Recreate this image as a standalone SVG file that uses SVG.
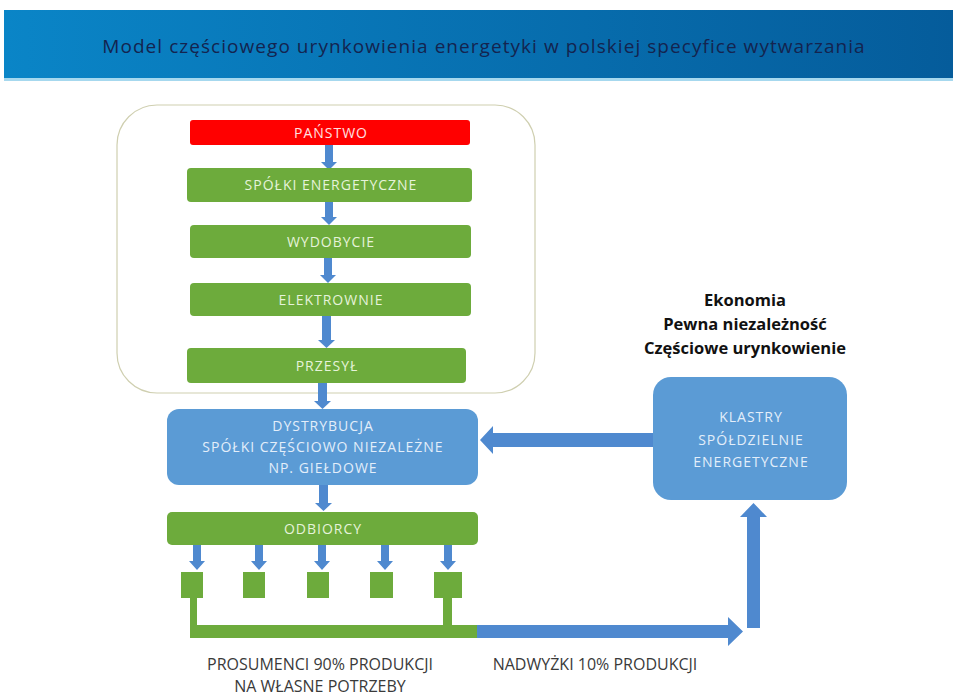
<svg xmlns="http://www.w3.org/2000/svg" width="953" height="700" viewBox="0 0 953 700">
<defs>
<linearGradient id="hdr" x1="0" y1="0" x2="1" y2="0">
<stop offset="0" stop-color="#0a85c7"/>
<stop offset="1" stop-color="#055c9b"/>
</linearGradient>
<style>
.t{font-family:"Open Sans","Liberation Sans",sans-serif;text-anchor:middle}
.bx{font-size:14px;letter-spacing:1px;fill:#e6f3da}
.bb{font-size:14px;letter-spacing:1px;fill:#e3eefa}
.g{fill:#6dab3c}
.b{fill:#5b9bd5}
.ar{fill:#4f89cf}
.lbl{font-size:16px;fill:#3a3a3a}
.hd{font-size:16.5px;font-weight:bold;fill:#111}
</style>
</defs>
<rect x="0" y="0" width="953" height="700" fill="#ffffff"/>
<g id="header">
<rect x="4" y="10" width="949" height="68" fill="url(#hdr)"/>
<rect x="4" y="78" width="949" height="3" fill="#a6d8ee"/>
<text class="t" x="484" y="53" font-size="19" letter-spacing="1.05" fill="#14244f">Model częściowego urynkowienia energetyki w polskiej specyfice wytwarzania</text>
</g>
<g id="state-frame">
<rect x="117" y="105" width="418" height="288" rx="40" fill="none" stroke="#cfcfb0" stroke-width="1.2"/>
</g>
<g id="connectors">
<path class="ar" d="M325 145h8v17h4l-8 8l-8-8h4z"/>
<path class="ar" d="M325 202h8v15h4l-8 8l-8-8h4z"/>
<path class="ar" d="M324 258h8v17h4l-8 8l-8-8h4z"/>
<path class="ar" d="M322 316h9v24h4l-8.5 8l-8.5-8h4z"/>
<path class="ar" d="M318 383h9v18h4l-8.5 8l-8.5-8h4z"/>
<path class="ar" d="M319 485h9v18h4l-8.5 8l-8.5-8h4z"/>
<path class="ar" d="M193 545h8v16h4l-8 9l-8-9h4z"/>
<path class="ar" d="M255 545h8v16h4l-8 9l-8-9h4z"/>
<path class="ar" d="M318 545h8v16h4l-8 9l-8-9h4z"/>
<path class="ar" d="M381 545h8v16h4l-8 9l-8-9h4z"/>
<path class="ar" d="M444 545h8v16h4l-8 9l-8-9h4z"/>
<path class="g" d="M190 598h7v27h246v-27h9v27h25v13h-287z"/>
<path class="ar" d="M477 625h251v-8l15 14.5l-15 14.5v-8h-251z"/>
<path class="ar" d="M747 628v-111h-7l13.5-14l13.5 14h-7v111z"/>
<path class="ar" d="M653 433v14h-160v7l-13-14l13-14v7z"/>
</g>
<g id="panstwo">
<rect x="190" y="120" width="280" height="25" rx="3" fill="#ff0000"/>
<text class="t bx" x="331" y="138" style="fill:#ffe0e0">PAŃSTWO</text>
</g>
<g id="spolki">
<rect class="g" x="187" y="168" width="285" height="34" rx="4"/>
<text class="t bx" x="331" y="190">SPÓŁKI ENERGETYCZNE</text>
</g>
<g id="wydobycie">
<rect class="g" x="190" y="225" width="281" height="33" rx="4"/>
<text class="t bx" x="331" y="247">WYDOBYCIE</text>
</g>
<g id="elektrownie">
<rect class="g" x="190" y="283" width="281" height="33" rx="4"/>
<text class="t bx" x="331" y="305">ELEKTROWNIE</text>
</g>
<g id="przesyl">
<rect class="g" x="187" y="348" width="279" height="35" rx="4"/>
<text class="t bx" x="327" y="371">PRZESYŁ</text>
</g>
<g id="dystrybucja">
<rect class="b" x="167" y="409" width="311" height="76" rx="12"/>
<text class="t bb" x="323" y="431">DYSTRYBUCJA</text>
<text class="t bb" x="323" y="452">SPÓŁKI CZĘŚCIOWO NIEZALEŻNE</text>
<text class="t bb" x="323" y="473">NP. GIEŁDOWE</text>
</g>
<g id="odbiorcy">
<rect class="g" x="167" y="512" width="311" height="33" rx="5"/>
<text class="t bx" x="323" y="534">ODBIORCY</text>
</g>
<g id="prosument1"><rect class="g" x="181" y="572" width="22" height="26"/></g>
<g id="prosument2"><rect class="g" x="243" y="572" width="22" height="26"/></g>
<g id="prosument3"><rect class="g" x="307" y="572" width="22" height="26"/></g>
<g id="prosument4"><rect class="g" x="370" y="572" width="23" height="26"/></g>
<g id="prosument5"><rect class="g" x="434" y="572" width="28" height="26"/></g>
<g id="klastry">
<rect class="b" x="653" y="377" width="194" height="123" rx="18"/>
<text class="t bb" x="751" y="422">KLASTRY</text>
<text class="t bb" x="751" y="445">SPÓŁDZIELNIE</text>
<text class="t bb" x="751" y="467">ENERGETYCZNE</text>
</g>
<g id="labels">
<text class="t hd" x="745" y="306">Ekonomia</text>
<text class="t hd" x="745" y="330">Pewna niezależność</text>
<text class="t hd" x="745" y="354">Częściowe urynkowienie</text>
<text class="t lbl" x="320" y="670">PROSUMENCI 90% PRODUKCJI</text>
<text class="t lbl" x="320" y="692">NA WŁASNE POTRZEBY</text>
<text class="t lbl" x="595" y="670">NADWYŻKI 10% PRODUKCJI</text>
</g>
</svg>
